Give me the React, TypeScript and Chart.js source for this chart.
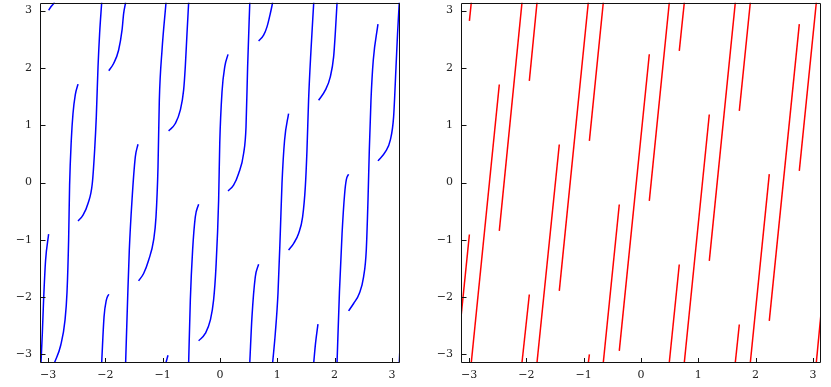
import React, { useEffect, useRef } from "react";
import { Chart, registerables } from "chart.js";

Chart.register(...registerables);

type Pt = [number, number];

const AXIS_MIN = -3.1416;
const AXIS_MAX = 3.1416;
const tickValues = [-3, -2, -1, 0, 1, 2, 3];
const tickLabels = ["\u22123", "\u22122", "\u22121", "0", "1", "2", "3"];

// Left panel: curved (blue) pieces, each wrapped into [-pi, pi]
const blueCurves: Pt[][] = [
  [[-3.124, -3.1416], [-3.101, -2.635], [-3.079, -2.054], [-3.044, -1.356], [-2.991, -0.902]],
  [[-2.991, 3.007], [-2.944, 3.077], [-2.887, 3.1416]],
  [[-2.887, -3.1416], [-2.78, -2.84], [-2.705, -2.403], [-2.67, -1.91], [-2.642, -1.0], [-2.625, -0.05], [-2.595, 0.75], [-2.566, 1.2], [-2.526, 1.53], [-2.478, 1.716]],
  [[-2.478, -0.67], [-2.391, -0.571], [-2.304, -0.366], [-2.229, -0.017], [-2.188, 0.564], [-2.159, 1.145], [-2.129, 2.017], [-2.101, 2.6], [-2.065, 3.1416]],
  [[-2.065, -3.1416], [-2.024, -2.346], [-1.984, -2.054], [-1.941, -1.949]],
  [[-1.941, 1.951], [-1.857, 2.077], [-1.77, 2.309], [-1.71, 2.658], [-1.682, 2.949], [-1.647, 3.1416]],
  [[-1.647, -3.1416], [-1.613, -2.054], [-1.583, -1.181], [-1.536, -0.309], [-1.478, 0.447], [-1.431, 0.668]],
  [[-1.421, -1.717], [-1.333, -1.588], [-1.246, -1.356], [-1.159, -1.007], [-1.117, -0.6], [-1.082, 0.272], [-1.059, 1.436], [-1.012, 2.309], [-0.942, 3.1416]],
  [[-0.942, -3.1416], [-0.908, -3.014]],
  [[-0.897, 0.901], [-0.78, 1.03], [-0.693, 1.262], [-0.635, 1.611], [-0.606, 2.017], [-0.576, 2.6], [-0.547, 3.1416]],
  [[-0.547, -3.1416], [-0.518, -2.054], [-0.478, -1.181], [-0.431, -0.6], [-0.373, -0.379]],
  [[-0.373, -2.764], [-0.257, -2.635], [-0.169, -2.403], [-0.112, -2.054], [-0.07, -1.473], [-0.024, -0.309], [-0.004, 0.7], [0.035, 1.58], [0.085, 2.03], [0.14, 2.237]],
  [[0.14, -0.147], [0.237, -0.047], [0.325, 0.157], [0.412, 0.506], [0.454, 0.97], [0.482, 2.017], [0.52, 3.1416]],
  [[0.52, -3.1416], [0.558, -2.346], [0.616, -1.647], [0.674, -1.426]],
  [[0.674, 2.471], [0.761, 2.571], [0.82, 2.716], [0.878, 2.949], [0.919, 3.1416]],
  [[0.919, -3.1416], [0.965, -2.635], [1.012, -1.937], [1.052, -0.89], [1.082, -0.017], [1.127, 0.738], [1.197, 1.204]],
  [[1.197, -1.181], [1.284, -1.065], [1.372, -0.89], [1.442, -0.6], [1.489, -0.077], [1.518, 0.564], [1.546, 1.436], [1.588, 2.309], [1.636, 3.1416]],
  [[1.636, -3.1416], [1.668, -2.8], [1.71, -2.473]],
  [[1.721, 1.436], [1.838, 1.611], [1.925, 1.843], [1.983, 2.192], [2.012, 2.6], [2.043, 3.1416]],
  [[2.043, -3.1416], [2.085, -1.9], [2.13, -0.9], [2.175, -0.2], [2.205, 0.05], [2.244, 0.145]],
  [[2.244, -2.241], [2.332, -2.112], [2.431, -1.937], [2.506, -1.647], [2.553, -1.181], [2.583, -0.309], [2.606, 0.564], [2.635, 1.436], [2.675, 2.134], [2.757, 2.763]],
  [[2.757, 0.377], [2.885, 0.534], [2.972, 0.738], [3.03, 1.145], [3.072, 2.017], [3.099, 2.6], [3.129, 3.1416]],
  [[3.129, -3.1416], [3.1416, -2.87]],
];

// Right panel: straight (red) pieces, each wrapped into [-pi, pi]
const redLines: Pt[][] = [
  [[-3.1416, -2.35], [-2.995, -0.907]],
  [[-2.995, 2.82], [-2.962, 3.1416]],
  [[-2.962, -3.1416], [-2.473, 1.71]],
  [[-2.473, -0.845], [-2.077, 3.1416]],
  [[-2.077, -3.1416], [-1.949, -1.955]],
  [[-1.949, 1.773], [-1.815, 3.1416]],
  [[-1.815, -3.1416], [-1.426, 0.663]],
  [[-1.426, -1.892], [-0.92, 3.1416]],
  [[-0.918, -3.1416], [-0.901, -3.0]],
  [[-0.901, 0.726], [-0.658, 3.1416]],
  [[-0.658, -3.1416], [-0.379, -0.384]],
  [[-0.379, -2.939], [0.145, 2.239]],
  [[0.145, -0.321], [0.494, 3.1416]],
  [[0.494, -3.1416], [0.668, -1.431]],
  [[0.668, 2.297], [0.756, 3.1416]],
  [[0.756, -3.1416], [1.192, 1.187]],
  [[1.192, -1.368], [1.646, 3.1416]],
  [[1.646, -3.1416], [1.716, -2.478]],
  [[1.716, 1.25], [1.908, 3.1416]],
  [[1.908, -3.1416], [2.239, 0.145]],
  [[2.239, -2.415], [2.763, 2.763]],
  [[2.763, 0.202], [3.06, 3.1416]],
  [[3.06, -3.1416], [3.1416, -2.286]],
];

const FONT = { family: "'DejaVu Serif', serif", size: 11 };

const framePlugin = {
  id: "frameTicks",
  afterDraw(chart: any) {
    const { ctx, chartArea: a, scales } = chart;
    const l = Math.round(a.left) + 0.5;
    const r = Math.round(a.right) - 0.5;
    const t = Math.round(a.top) + 0.5;
    const b = Math.round(a.bottom) - 0.5;
    ctx.save();
    ctx.strokeStyle = "#111";
    ctx.lineWidth = 1;
    ctx.beginPath();
    ctx.rect(l, t, r - l, b - t);
    tickValues.forEach((v) => {
      const px = Math.round(scales.x.getPixelForValue(v)) + 0.5;
      ctx.moveTo(px, b);
      ctx.lineTo(px, b - 4.5);
      const py = Math.round(scales.y.getPixelForValue(v)) + 0.5;
      ctx.moveTo(l, py);
      ctx.lineTo(l + 5, py);
    });
    ctx.stroke();
    ctx.restore();
  },
};

function makeConfig(pieces: Pt[][], color: string, curved: boolean): any {
  const axisCommon = {
    type: "linear",
    min: AXIS_MIN,
    max: AXIS_MAX,
    grid: { display: false, drawTicks: false },
    border: { display: false },
    afterBuildTicks: (scale: any) => {
      scale.ticks = tickValues.map((v) => ({ value: v }));
    },
  };
  const label = (v: number) => tickLabels[tickValues.indexOf(Math.round(v))] ?? "";
  return {
    type: "line",
    data: {
      datasets: pieces.map((p) => ({
        data: p.map(([x, y]) => ({ x, y })),
        borderColor: color,
        borderWidth: 1.5,
        pointRadius: 0,
        fill: false,
        tension: 0,
        cubicInterpolationMode: curved ? "monotone" : "default",
      })),
    },
    options: {
      responsive: false,
      animation: false,
      devicePixelRatio: 1,
      layout: { padding: { left: 0, right: 10, top: 2.5, bottom: 0 } },
      plugins: { legend: { display: false }, tooltip: { enabled: false } },
      scales: {
        x: {
          ...axisCommon,
          position: "bottom",
          afterFit: (scale: any) => {
            scale.height = 24.5;
            scale.paddingLeft = 0;
            scale.paddingRight = 0;
            scale.paddingTop = 0;
            scale.paddingBottom = 0;
          },
          ticks: {
            autoSkip: false,
            maxRotation: 0,
            padding: 6,
            color: "#222",
            font: FONT,
            callback: label,
          },
        },
        y: {
          ...axisCommon,
          position: "left",
          afterFit: (scale: any) => {
            scale.width = 40;
            scale.paddingLeft = 0;
            scale.paddingRight = 0;
            scale.paddingTop = 0;
            scale.paddingBottom = 0;
          },
          ticks: {
            autoSkip: false,
            padding: 8,
            color: "#222",
            font: FONT,
            callback: label,
          },
        },
      },
    },
    plugins: [framePlugin],
  };
}

function Panel({ pieces, color, curved, left }: { pieces: Pt[][]; color: string; curved: boolean; left: number }) {
  const ref = useRef<HTMLCanvasElement | null>(null);
  useEffect(() => {
    if (!ref.current) return;
    const chart = new Chart(ref.current, makeConfig(pieces, color, curved));
    return () => chart.destroy();
  }, [pieces, color, curved]);
  return (
    <canvas
      ref={ref}
      width={410}
      height={387}
      style={{ position: "absolute", left, top: 0, width: 410, height: 387 }}
    />
  );
}

export default function App() {
  return (
    <div style={{ position: "fixed", left: 0, top: 0, width: 831, height: 387, background: "#fff" }}>
      <Panel pieces={blueCurves} color="#0000ff" curved={true} left={0} />
      <Panel pieces={redLines} color="#ff0000" curved={false} left={421} />
    </div>
  );
}
